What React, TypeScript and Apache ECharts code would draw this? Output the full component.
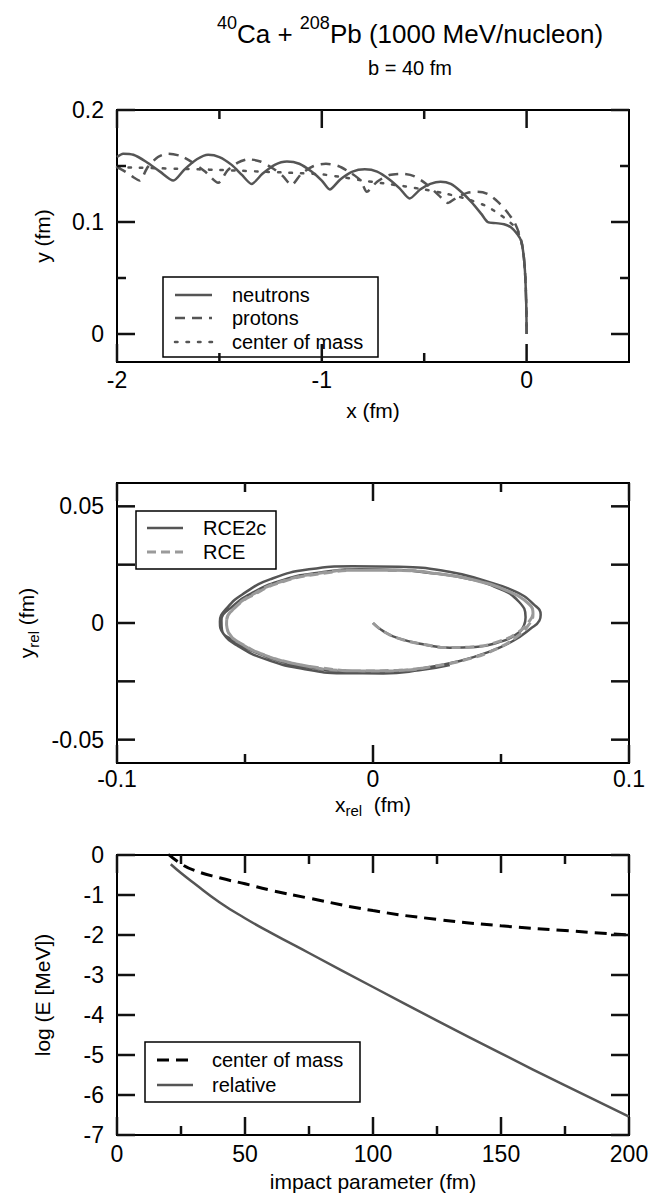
import React, { useEffect, useRef } from 'react';
import * as echarts from 'echarts';

const FONT = '"Liberation Sans", Arial, Helvetica, sans-serif';

// ---------- Panel 1: trajectories (x, y in fm) ----------
const neutrons: number[][] = [
  [-2.0, 0.158], [-1.97, 0.161], [-1.92, 0.160], [-1.86, 0.154], [-1.79, 0.145], [-1.725, 0.137],
  [-1.67, 0.147], [-1.61, 0.156], [-1.555, 0.160], [-1.50, 0.158], [-1.44, 0.151], [-1.39, 0.142],
  [-1.343, 0.134], [-1.29, 0.143], [-1.23, 0.151], [-1.17, 0.154], [-1.11, 0.152], [-1.05, 0.145],
  [-1.0, 0.137], [-0.961, 0.129], [-0.91, 0.138], [-0.85, 0.145], [-0.79, 0.147], [-0.73, 0.145],
  [-0.67, 0.138], [-0.62, 0.130], [-0.571, 0.121], [-0.52, 0.129], [-0.47, 0.134], [-0.42, 0.136],
  [-0.37, 0.134], [-0.32, 0.127], [-0.27, 0.118], [-0.22, 0.107], [-0.19, 0.100], [-0.15, 0.099],
  [-0.11, 0.098], [-0.075, 0.095], [-0.045, 0.089], [-0.026, 0.083], [-0.015, 0.071], [-0.008, 0.056],
  [-0.004, 0.040], [-0.001, 0.020], [0, 0],
];
const protons: number[][] = [
  [-2.0, 0.149], [-1.96, 0.145], [-1.92, 0.140], [-1.89, 0.137], [-1.85, 0.149], [-1.80, 0.158],
  [-1.75, 0.161], [-1.69, 0.159], [-1.63, 0.153], [-1.57, 0.145], [-1.506, 0.135], [-1.46, 0.146],
  [-1.41, 0.153], [-1.36, 0.156], [-1.30, 0.154], [-1.24, 0.148], [-1.19, 0.141], [-1.148, 0.133],
  [-1.10, 0.143], [-1.04, 0.150], [-0.98, 0.152], [-0.92, 0.150], [-0.86, 0.144], [-0.81, 0.137],
  [-0.78, 0.127], [-0.73, 0.136], [-0.67, 0.142], [-0.61, 0.143], [-0.55, 0.141], [-0.49, 0.134],
  [-0.43, 0.124], [-0.384, 0.117], [-0.34, 0.122], [-0.29, 0.126], [-0.24, 0.127], [-0.19, 0.125],
  [-0.14, 0.118], [-0.10, 0.110], [-0.06, 0.100], [-0.035, 0.089], [-0.02, 0.078], [-0.010, 0.062],
  [-0.005, 0.045], [-0.001, 0.020], [0, 0],
];
const centerOfMass1: number[][] = [
  [-2.0, 0.149], [-1.9, 0.1485], [-1.8, 0.148], [-1.7, 0.1475], [-1.6, 0.147], [-1.5, 0.1465],
  [-1.4, 0.1458], [-1.3, 0.145], [-1.2, 0.1443], [-1.1, 0.1435], [-1.0, 0.1425], [-0.9, 0.140],
  [-0.8, 0.137], [-0.7, 0.1345], [-0.6, 0.132], [-0.5, 0.129], [-0.4, 0.1255], [-0.3, 0.121],
  [-0.2, 0.1145], [-0.15, 0.109], [-0.1, 0.1025], [-0.06, 0.096], [-0.035, 0.088], [-0.02, 0.077],
  [-0.01, 0.061], [-0.004, 0.042], [-0.001, 0.02], [0, 0],
];
const p1XMajor = [-2, -1, 0];
const p1XMinor = [-1.5, -0.5];
const p1YMajor = [0, 0.1, 0.2];
const p1YMinor = [0.05, 0.15];

// ---------- Panel 2: relative coordinates ----------
const rce2c: number[][] = [
  [0.0, 0.0], [0.004, -0.0035], [0.010, -0.0066], [0.020, -0.0092], [0.030, -0.0106], [0.040, -0.0103],
  [0.049, -0.0083], [0.0557, -0.0051], [0.0590, -0.0010], [0.0596, 0.0025], [0.0570, 0.0091],
  [0.0490, 0.0149], [0.0362, 0.0192], [0.0232, 0.0213], [0.0102, 0.0227], [-0.005, 0.0230],
  [-0.020, 0.0218], [-0.035, 0.0185], [-0.047, 0.0130], [-0.055, 0.0070], [-0.0592, 0.0010],
  [-0.0590, -0.0030], [-0.0545, -0.0075], [-0.047, -0.0120], [-0.036, -0.0165], [-0.022, -0.0195],
  [-0.008, -0.0210], [0.006, -0.0210], [0.020, -0.0193], [0.033, -0.0165], [0.045, -0.0125],
  [0.055, -0.0075], [0.0615, -0.0025], [0.0650, 0.0010], [0.0655, 0.0035], [0.0630, 0.0078],
  [0.0557, 0.0134], [0.0427, 0.0184], [0.0297, 0.0220], [0.0102, 0.0241], [-0.008, 0.0243],
  [-0.025, 0.0230], [-0.040, 0.0188], [-0.050, 0.0130], [-0.057, 0.0065], [-0.0598, 0.0005],
  [-0.0585, -0.0045], [-0.0525, -0.0100], [-0.042, -0.0155], [-0.028, -0.0195], [-0.012, -0.0215],
  [0.004, -0.0216], [0.018, -0.0203], [0.030, -0.0180],
];
const rce: number[][] = [
  [0.0, 0.0], [0.004, -0.0035], [0.010, -0.0066], [0.020, -0.0092], [0.030, -0.0105], [0.040, -0.0101],
  [0.049, -0.0080], [0.056, -0.0045], [0.0605, 0.0], [0.0625, 0.0045], [0.0600, 0.0090],
  [0.0520, 0.0140], [0.0400, 0.0182], [0.0250, 0.0212], [0.0100, 0.0226], [-0.005, 0.0226],
  [-0.020, 0.0212], [-0.035, 0.0178], [-0.046, 0.0125], [-0.0540, 0.0065], [-0.0572, 0.0005],
  [-0.0565, -0.0040], [-0.0520, -0.0085], [-0.044, -0.0130], [-0.033, -0.0168], [-0.020, -0.0193],
  [-0.005, -0.0205], [0.010, -0.0203], [0.024, -0.0185], [0.037, -0.0155], [0.048, -0.0112],
  [0.056, -0.0060], [0.0610, -0.0005], [0.0625, 0.0040], [0.0605, 0.0085], [0.0530, 0.0135],
  [0.0410, 0.0180], [0.0260, 0.0210], [0.0100, 0.0225], [-0.006, 0.0226], [-0.021, 0.0213],
  [-0.036, 0.0177], [-0.047, 0.0122], [-0.0545, 0.0060], [-0.0572, 0.0], [-0.0560, -0.0048],
  [-0.0505, -0.0095], [-0.041, -0.0143], [-0.028, -0.0180], [-0.012, -0.0203], [0.004, -0.0206],
  [0.020, -0.0192],
];
const p2XMajor = [-0.1, 0, 0.1];
const p2XMinor = [-0.05, 0.05];
const p2YMajor = [-0.05, -0.025, 0, 0.025, 0.05];
const p2YLabels = [-0.05, 0, 0.05];

// ---------- Panel 3: energies vs impact parameter ----------
const centerOfMass3: number[][] = [
  [20, 0.02], [25, -0.22], [30, -0.38], [40, -0.57], [50, -0.72], [60, -0.88], [75, -1.08],
  [100, -1.39], [125, -1.61], [150, -1.77], [175, -1.89], [200, -2.0],
];
const relative3: number[][] = [
  [21, -0.23], [25, -0.45], [30, -0.70], [40, -1.18], [50, -1.58], [60, -1.94], [75, -2.45],
  [100, -3.30], [125, -4.14], [150, -4.96], [175, -5.76], [200, -6.54],
];
const p3XMajor = [0, 50, 100, 150, 200];
const p3XMinor = [25, 75, 125, 175];
const p3YMajor = [0, -1, -2, -3, -4, -5, -6, -7];

const DARK = '#555555';
const LIGHT = '#9a9a9a';
const INK = '#111111';
const TICK_FONT = 23;
const NAME_FONT = 21;
const MAJOR_LEN = 18;
const MINOR_LEN = 9;
const FRAME_W = 2;
const TICK_W = 2.5;

const panels = [
  { xMin: -2, xMax: 0.5, yMin: -0.025, yMax: 0.2, xMajor: p1XMajor, xMinor: p1XMinor, yMajor: p1YMajor, yMinor: p1YMinor, xLabels: p1XMajor, yLabels: p1YMajor },
  { xMin: -0.1, xMax: 0.1, yMin: -0.06, yMax: 0.06, xMajor: p2XMajor, xMinor: p2XMinor, yMajor: p2YMajor, yMinor: [] as number[], xLabels: p2XMajor, yLabels: p2YLabels },
  { xMin: 0, xMax: 200, yMin: -7, yMax: 0, xMajor: p3XMajor, xMinor: p3XMinor, yMajor: p3YMajor, yMinor: [] as number[], xLabels: p3XMajor, yLabels: p3YMajor },
];

const subRich = {
  a: { fontSize: NAME_FONT, fontFamily: FONT, color: '#000', lineHeight: 28 },
  s: { fontSize: 15, fontFamily: FONT, color: '#000', lineHeight: 14, verticalAlign: 'bottom' },
};

function legend(x: number, y: number, w: number, h: number, items: any[]) {
  const children: any[] = [
    { type: 'rect', shape: { x, y, width: w, height: h }, style: { fill: '#fff', stroke: '#000', lineWidth: 1.5 } },
  ];
  items.forEach((it) => {
    children.push({
      type: 'line', shape: { x1: it.x1, y1: it.y, x2: it.x2, y2: it.y },
      style: { stroke: it.color, lineWidth: it.width, lineDash: it.dash, lineCap: it.cap || 'butt' },
    });
    children.push({
      type: 'text', x: it.tx, y: it.y,
      style: { text: it.label, fontSize: 20, fontFamily: FONT, fill: '#000', verticalAlign: 'middle', align: 'left' },
    });
  });
  return { type: 'group', z: 100, children };
}

export default function App() {
  const ref = useRef<HTMLDivElement>(null);
  useEffect(() => {
    const chart = echarts.init(ref.current!, null, { renderer: 'svg' });

    const names = [
      { x: 'x (fm)', xGap: 38, xMargin: 6, y: 'y (fm)', yGap: 64, rich: undefined },
      { x: '{a|x}{s|rel}{a|  (fm)}', xGap: 27, xMargin: 4, y: '{a|y}{s|rel}{a| (fm)}', yGap: 64, rich: subRich },
      { x: 'impact parameter (fm)', xGap: 36, xMargin: 7, y: 'log (E [MeV])', yGap: 64, rich: undefined },
    ];

    const xAxis = panels.map((p, g) => ({
      type: 'value', gridIndex: g, min: p.xMin, max: p.xMax, position: 'bottom',
      splitLine: { show: false },
      axisLine: { show: false, onZero: false },
      axisTick: { show: false },
      axisLabel: { show: true, customValues: p.xLabels, fontSize: TICK_FONT, color: '#000', fontFamily: FONT, margin: names[g].xMargin },
      name: names[g].x, nameLocation: 'middle', nameGap: names[g].xGap,
      nameTextStyle: { fontSize: NAME_FONT, color: '#000', fontFamily: FONT, rich: names[g].rich },
    }));
    const yAxis = panels.map((p, g) => ({
      type: 'value', gridIndex: g, min: p.yMin, max: p.yMax, position: 'left',
      splitLine: { show: false },
      axisLine: { show: false, onZero: false },
      axisTick: { show: false },
      axisLabel: { show: true, customValues: p.yLabels, fontSize: TICK_FONT, color: '#000', fontFamily: FONT, margin: 13 },
      name: names[g].y, nameLocation: 'middle', nameGap: names[g].yGap,
      nameTextStyle: { fontSize: NAME_FONT, color: '#000', fontFamily: FONT, rich: names[g].rich },
    }));

    // Tick marks on all four sides, positioned through each panel's axes.
    // item = [x, y, tick length, kind (0 = x tick, 1 = y tick)]
    const tickSeries = panels.map((p, g) => {
      const data: number[][] = [];
      p.xMajor.forEach((v) => data.push([v, p.yMin, MAJOR_LEN, 0]));
      p.xMinor.forEach((v) => data.push([v, p.yMin, MINOR_LEN, 0]));
      p.yMajor.forEach((v) => data.push([p.xMin, v, MAJOR_LEN, 1]));
      p.yMinor.forEach((v) => data.push([p.xMin, v, MINOR_LEN, 1]));
      return {
        type: 'custom', xAxisIndex: g, yAxisIndex: g, silent: true, clip: false, z: 5,
        data,
        renderItem: (params: any, api: any) => {
          const cs = params.coordSys;
          const kind = api.value(3);
          const len = api.value(2);
          const pt = api.coord([api.value(0), api.value(1)]);
          const style = { stroke: INK, lineWidth: TICK_W };
          if (kind === 0) {
            return {
              type: 'group', children: [
                { type: 'line', shape: { x1: pt[0], y1: cs.y + cs.height, x2: pt[0], y2: cs.y + cs.height - len }, style },
                { type: 'line', shape: { x1: pt[0], y1: cs.y, x2: pt[0], y2: cs.y + len }, style },
              ],
            };
          }
          return {
            type: 'group', children: [
              { type: 'line', shape: { x1: cs.x, y1: pt[1], x2: cs.x + len, y2: pt[1] }, style },
              { type: 'line', shape: { x1: cs.x + cs.width, y1: pt[1], x2: cs.x + cs.width - len, y2: pt[1] }, style },
            ],
          };
        },
      };
    });

    const line = (data: number[][], g: number, color: string, width: number, type: any, smooth: number, cap = 'butt') => ({
      type: 'line', data, xAxisIndex: g, yAxisIndex: g, showSymbol: false, symbol: 'none',
      smooth, clip: true,
      lineStyle: { color, width, type, cap },
    });

    const gridBase = { left: 117, width: 512, show: true, borderColor: '#000', borderWidth: FRAME_W, backgroundColor: 'transparent' };

    const option: any = {
      animation: false,
      backgroundColor: '#fff',
      grid: [
        { ...gridBase, top: 110, height: 252 },
        { ...gridBase, top: 483, height: 280 },
        { ...gridBase, top: 855, height: 280 },
      ],
      xAxis,
      yAxis,
      series: [
        ...tickSeries,
        line(centerOfMass1, 0, DARK, 2.5, [2.5, 9], 0.3, 'round'),
        line(protons, 0, DARK, 2.5, [10, 7], 0.25),
        line(neutrons, 0, DARK, 2.5, 'solid', 0.25),
        line(rce2c, 1, DARK, 2.5, 'solid', 0.5),
        line(rce, 1, LIGHT, 3, [9, 5], 0.5),
        line(centerOfMass3, 2, '#000', 3, [12, 7], 0.5),
        line(relative3, 2, DARK, 2.5, 'solid', 0.5),
      ],
      graphic: [
        {
          type: 'text', x: 410, y: 14, z: 100,
          style: {
            text: '{s|40}{m|Ca + }{s|208}{m|Pb (1000 MeV/nucleon)}',
            align: 'center', verticalAlign: 'top',
            rich: {
              s: { fontSize: 18, fontFamily: FONT, fill: '#000', lineHeight: 12, verticalAlign: 'top' },
              m: { fontSize: 26, fontFamily: FONT, fill: '#000', lineHeight: 40 },
            },
          },
        },
        {
          type: 'text', x: 410, y: 68, z: 100,
          style: { text: 'b = 40 fm', fontSize: 20, fontFamily: FONT, fill: '#000', align: 'center', verticalAlign: 'middle' },
        },
        legend(163, 277, 215, 80, [
          { label: 'neutrons', y: 295, x1: 175, x2: 212, tx: 232, color: DARK, width: 2.5, dash: null },
          { label: 'protons', y: 318, x1: 175, x2: 212, tx: 232, color: DARK, width: 2.5, dash: [10, 7] },
          { label: 'center of mass', y: 342, x1: 175, x2: 212, tx: 232, color: DARK, width: 2.5, dash: [2.5, 9], cap: 'round' },
        ]),
        legend(136, 511, 140, 58, [
          { label: 'RCE2c', y: 528, x1: 147, x2: 183, tx: 203, color: DARK, width: 2.5, dash: null },
          { label: 'RCE', y: 552, x1: 147, x2: 183, tx: 203, color: LIGHT, width: 3, dash: [9, 5] },
        ]),
        legend(145, 1042, 215, 60, [
          { label: 'center of mass', y: 1060, x1: 157, x2: 193, tx: 212, color: '#000', width: 3, dash: [12, 7] },
          { label: 'relative', y: 1085, x1: 157, x2: 193, tx: 212, color: DARK, width: 2.5, dash: null },
        ]),
      ],
    };
    chart.setOption(option);
    return () => chart.dispose();
  }, []);
  return (
    <div
      ref={ref}
      style={{ position: 'absolute', left: 0, top: 0, width: 652, height: 1199, background: '#fff' }}
    />
  );
}
